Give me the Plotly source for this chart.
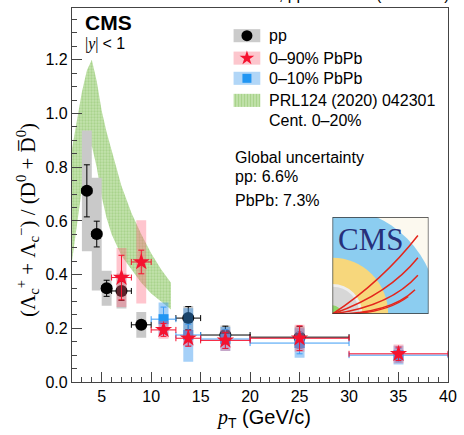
import plotly.graph_objects as go

# ---------------- data ----------------
# pp reference
pt_pp = [3.5, 4.5, 5.5, 7.0, 9.0, 13.75, 17.5, 25.0]
ratio_pp = [0.712, 0.551, 0.349, 0.339, 0.213, 0.238, 0.175, 0.167]
stat_pp = [0.097, 0.048, 0.030, 0.035, 0.015, 0.043, 0.033, 0.040]
syst_pp = [0.225, 0.210, 0.065, 0.065, 0.048, 0.045, 0.035, 0.040]
binhw_pp = [0.5, 0.5, 0.5, 1.0, 1.0, 1.25, 2.5, 5.0]

# PbPb 0-90%
pt_aa90 = [7.0, 9.0, 11.25, 13.75, 17.5, 25.0, 35.0]
ratio_aa90 = [0.389, 0.447, 0.194, 0.163, 0.155, 0.163, 0.105]
stat_aa90 = [0.083, 0.044, 0.024, 0.030, 0.030, 0.046, 0.025]
syst_aa90 = [0.110, 0.155, 0.033, 0.030, 0.040, 0.050, 0.035]
binhw_aa90 = [1.0, 1.0, 1.25, 1.25, 2.5, 5.0, 5.0]

# PbPb 0-10%
pt_aa10 = [11.25, 13.75, 17.5, 25.0, 35.0]
ratio_aa10 = [0.234, 0.175, 0.160, 0.145, 0.100]
stat_aa10 = [0.045, 0.040, 0.035, 0.040, 0.025]
syst_aa10 = [0.062, 0.100, 0.045, 0.055, 0.035]
binhw_aa10 = [1.25, 1.25, 2.5, 5.0, 5.0]

# PRL124 (2020) 042301, cent. 0-20% model band
model_pt = [2, 2.5, 3, 3.5, 4, 4.5, 5, 5.5, 6, 7, 8, 9, 10, 11, 12]
model_hi = [0.87, 0.98, 1.08, 1.16, 1.20, 1.12, 1.01, 0.93, 0.86, 0.73, 0.63, 0.55, 0.48, 0.42, 0.37]
model_lo = [0.45, 0.58, 0.72, 0.84, 0.88, 0.80, 0.69, 0.61, 0.55, 0.47, 0.42, 0.37, 0.33, 0.30, 0.27]

legend_labels = ["pp", "0\u201390% PbPb", "0\u201310% PbPb", "PRL124 (2020) 042301", "Cent. 0\u201320%"]

# ---------------- style ----------------
SANS = "Liberation Sans, Arial, sans-serif"
SERIF = "Liberation Serif, Times New Roman, serif"
GREY_BOX = "#c9c9c9"
RED_BOX = "rgba(255,95,120,0.36)"
BLUE_BOX = "rgba(55,150,240,0.45)"
RED = "#f5122f"
BLUE = "#2196f3"
BLUE_ERR = "#3d9cf5"
BAND_BG = "#c3e2ad"
BAND_FG = "#8fc46c"
BOX_HALF = 0.5


def boxes(xv, yv, sv, half=BOX_HALF):
    xs, ys = [], []
    for x, y, s in zip(xv, yv, sv):
        xs += [x - half, x + half, x + half, x - half, x - half, None]
        ys += [y - s, y - s, y + s, y + s, y - s, None]
    return xs, ys


fig = go.Figure()

# model band
fig.add_trace(go.Scatter(
    x=model_pt + model_pt[::-1], y=model_hi + model_lo[::-1],
    fill="toself", mode="lines", line=dict(width=0, color=BAND_FG),
    fillcolor=BAND_BG,
    fillpattern=dict(shape=".", bgcolor=BAND_BG, fgcolor=BAND_FG, size=3, solidity=0.45),
    hoverinfo="skip", showlegend=False))

# pp
bx, by = boxes(pt_pp, ratio_pp, syst_pp)
fig.add_trace(go.Scatter(x=bx, y=by, fill="toself", mode="lines", line=dict(width=0),
                         fillcolor=GREY_BOX, showlegend=False, hoverinfo="skip"))
fig.add_trace(go.Scatter(
    x=pt_pp, y=ratio_pp, mode="markers",
    marker=dict(symbol="circle", size=12, color="black"),
    error_y=dict(type="data", array=stat_pp, color="black", thickness=1, width=3),
    error_x=dict(type="data", array=binhw_pp, color="black", thickness=1, width=3),
    showlegend=False))

# PbPb 0-10%
bx, by = boxes(pt_aa10, ratio_aa10, syst_aa10)
fig.add_trace(go.Scatter(x=bx, y=by, fill="toself", mode="lines", line=dict(width=0),
                         fillcolor=BLUE_BOX, showlegend=False, hoverinfo="skip"))
fig.add_trace(go.Scatter(
    x=pt_aa10, y=ratio_aa10, mode="markers",
    marker=dict(symbol="square", size=10, color=BLUE),
    error_y=dict(type="data", array=stat_aa10, color=BLUE_ERR, thickness=1, width=3),
    error_x=dict(type="data", array=binhw_aa10, color=BLUE_ERR, thickness=1, width=3),
    showlegend=False))

# PbPb 0-90%
bx, by = boxes(pt_aa90, ratio_aa90, syst_aa90)
fig.add_trace(go.Scatter(x=bx, y=by, fill="toself", mode="lines", line=dict(width=0),
                         fillcolor=RED_BOX, showlegend=False, hoverinfo="skip"))
fig.add_trace(go.Scatter(
    x=pt_aa90, y=ratio_aa90, mode="markers",
    marker=dict(symbol="star", size=13, color=RED, line=dict(width=0)),
    error_y=dict(type="data", array=stat_aa90, color=RED, thickness=1, width=3),
    error_x=dict(type="data", array=binhw_aa90, color=RED, thickness=1, width=3),
    showlegend=False))

# ---------------- hand-made legend (overlay axes in plot-area fractions) ----------------
sw_x0, sw_x1 = 0.4297, 0.5008
rows = [0.926, 0.866, 0.812, 0.753]
sw_h = 0.0175
shapes = []
for yy, col in zip(rows[:3], ["#cbcbcb", "#fcc6cd", "#b1d6f7"]):
    shapes.append(dict(type="rect", xref="paper", yref="paper", x0=sw_x0, x1=sw_x1,
                       y0=yy - sw_h, y1=yy + sw_h, fillcolor=col, line=dict(width=0),
                       layer="below"))
fig.add_trace(go.Scatter(
    x=[sw_x0, sw_x1, sw_x1, sw_x0, sw_x0],
    y=[rows[3] - sw_h, rows[3] - sw_h, rows[3] + sw_h, rows[3] + sw_h, rows[3] - sw_h],
    xaxis="x3", yaxis="y3", fill="toself", mode="lines", line=dict(width=0),
    fillcolor=BAND_BG,
    fillpattern=dict(shape="|", bgcolor=BAND_BG, fgcolor=BAND_FG, size=3, solidity=0.45),
    showlegend=False, hoverinfo="skip"))
xm = 0.5 * (sw_x0 + sw_x1)
fig.add_trace(go.Scatter(x=[xm], y=[rows[0]], xaxis="x3", yaxis="y3", mode="markers",
                         marker=dict(symbol="circle", size=11, color="black"),
                         showlegend=False, hoverinfo="skip"))
fig.add_trace(go.Scatter(x=[xm], y=[rows[1]], xaxis="x3", yaxis="y3", mode="markers",
                         marker=dict(symbol="star", size=11, color=RED),
                         showlegend=False, hoverinfo="skip"))
fig.add_trace(go.Scatter(x=[xm], y=[rows[2]], xaxis="x3", yaxis="y3", mode="markers",
                         marker=dict(symbol="square", size=9, color=BLUE),
                         showlegend=False, hoverinfo="skip"))

ann = []
text_x = 0.5174
for yy, lab in zip(rows + [0.699], legend_labels):
    ann.append(dict(xref="paper", yref="paper", x=text_x, y=yy, xanchor="left", yanchor="middle",
                    text=lab, showarrow=False, font=dict(family=SANS, size=16, color="black")))

for yy, t in zip([0.599, 0.550, 0.486], ["Global uncertainty", "pp: 6.6%", "PbPb: 7.3%"]):
    ann.append(dict(xref="paper", yref="paper", x=0.4289, y=yy, xanchor="left", yanchor="middle",
                    text=t, showarrow=False, font=dict(family=SANS, size=16, color="black")))

# CMS label
ann.append(dict(xref="paper", yref="paper", x=0.028, y=0.962, xanchor="left", yanchor="middle",
                text="<b>CMS</b>", showarrow=False, font=dict(family=SANS, size=21, color="black")))
ann.append(dict(xref="paper", yref="paper", x=0.030, y=0.905, xanchor="left", yanchor="middle",
                text="|<i>y</i>| <span style=\"font-family:Liberation Sans\">&lt; 1</span>",
                showarrow=False, font=dict(family=SERIF, size=16, color="black")))

# luminosity header (sits at the very top edge)
ann.append(dict(xref="paper", yref="paper", x=1, y=1, xanchor="right", yanchor="bottom",
                xshift=4, yshift=3,
                text="PbPb 1.69 nb<sup>\u22121</sup>, pp 252 nb<sup>\u22121</sup> (5.02 TeV)",
                showarrow=False, font=dict(family=SANS, size=16, color="black")))

# axis titles
ann.append(dict(xref="paper", yref="paper", x=0, y=0.433, xanchor="center", yanchor="middle",
                xshift=-45, textangle=-90, showarrow=False,
                text="(\u039b<sub>c</sub><sup>+</sup> + \u039b<sub>c</sub><sup>\u2212</sup>) / "
                     "(D<sup>0</sup> + D\u0305<sup>0</sup>)",
                font=dict(family=SERIF, size=21, color="black")))
ann.append(dict(xref="paper", yref="paper", x=0.5, y=0, xanchor="center", yanchor="middle",
                yshift=-36, xshift=3, showarrow=False,
                text="<span style=\"font-family:Liberation Serif\"><i>p</i></span><sub>T</sub> (GeV/c)",
                font=dict(family=SANS, size=20, color="black")))

# ---------------- CMS detector logo (own subplot, 0-100 units) ----------------
shapes.append(dict(type="rect", xref="x2", yref="y2", x0=0, x1=100, y0=0, y1=100,
                   fillcolor="#fcf9ef", line=dict(width=0), layer="above"))
for r, col in [(110, "#8ccdf0"), (58, "#f7d77c"), (31, "#eeeeee"), (28, "#d7d7d7"), (9, "#8fd66a")]:
    shapes.append(dict(type="circle", xref="x2", yref="y2", x0=-r, x1=r, y0=-r, y1=r,
                       fillcolor=col, line=dict(width=0), layer="above"))
for ex, ey, cx, cy in [(89, 81, 52, 34), (89, 58, 58, 20), (89, 40, 60, 8), (86, 25, 60, 0), (79, 18, 52, -2)]:
    shapes.append(dict(type="path", xref="x2", yref="y2",
                       path=f"M 0,0 Q {cx},{cy} {ex},{ey}",
                       line=dict(color="#e4261c", width=1.5), layer="above"))
shapes.append(dict(type="rect", xref="x2", yref="y2", x0=0, x1=100, y0=0, y1=100,
                   fillcolor="rgba(0,0,0,0)", line=dict(width=1.2, color="#333"), layer="above"))
ann.append(dict(xref="x2", yref="y2", x=40, y=77, xanchor="center", yanchor="middle",
                text="CMS", showarrow=False, font=dict(family=SERIF, size=31, color="#27307a")))

axis_common = dict(showline=True, linecolor="#444", linewidth=1.2, mirror=True,
                   ticks="inside", ticklen=10, tickcolor="#444", tickwidth=1,
                   showgrid=False, zeroline=False,
                   tickfont=dict(family=SANS, size=16, color="black"))

fig.update_layout(
    width=464, height=435,
    margin=dict(l=72, r=10, t=7, b=53),
    paper_bgcolor="white", plot_bgcolor="white",
    showlegend=False,
    xaxis=dict(range=[1.999, 40.002], tick0=0, dtick=5,
               minor=dict(ticks="inside", ticklen=5, dtick=1, tick0=0, tickcolor="#444"),
               **axis_common),
    yaxis=dict(range=[0, 1.393], tick0=0, dtick=0.2, tickformat=".1f",
               minor=dict(ticks="inside", ticklen=5, dtick=0.05, tick0=0, tickcolor="#444"),
               **axis_common),
    xaxis2=dict(domain=[0.693, 0.948], range=[0, 100], visible=False, anchor="y2", fixedrange=True),
    yaxis2=dict(domain=[0.182, 0.441], range=[0, 100], visible=False, anchor="x2", fixedrange=True),
    xaxis3=dict(overlaying="x", range=[0, 1], visible=False, fixedrange=True),
    yaxis3=dict(overlaying="y", range=[0, 1], visible=False, fixedrange=True),
    shapes=shapes,
    annotations=ann,
)

fig.write_html("out.html")
